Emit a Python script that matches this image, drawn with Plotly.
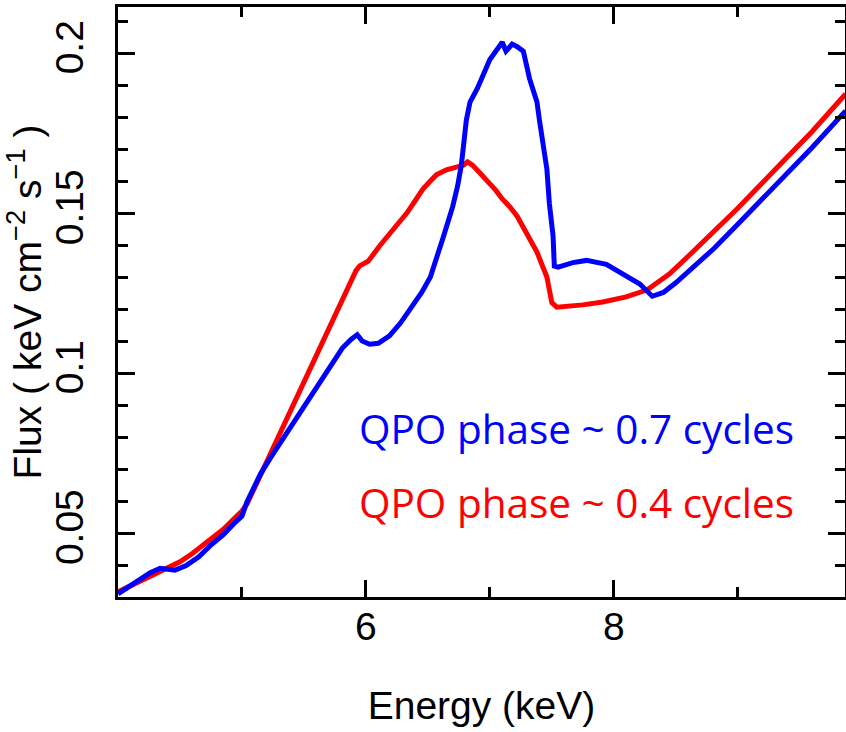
import plotly.graph_objects as go

# Energy (keV) / Flux for QPO phase ~0.4 cycles (red)
red_E = [4.00, 4.10, 4.20, 4.30, 4.40, 4.50, 4.60, 4.74, 4.85, 4.95, 5.00, 5.04, 5.10, 5.23, 5.33,
         5.44, 5.49, 5.60, 5.69, 5.78, 5.85, 5.92, 5.95, 6.02, 6.11, 6.22, 6.33, 6.40, 6.46, 6.52,
         6.57, 6.65, 6.73, 6.79, 6.82, 6.86, 6.92, 6.98, 7.05, 7.10, 7.16, 7.22, 7.30, 7.38, 7.46,
         7.50, 7.54, 7.60, 7.75, 7.91, 8.10, 8.27, 8.45, 8.60, 8.80, 9.00, 9.30, 9.60, 9.87]
red_F = [0.0316, 0.0334, 0.0352, 0.0372, 0.0392, 0.0410, 0.0436, 0.0476, 0.0512, 0.0550, 0.0569,
         0.0590, 0.0640, 0.0740, 0.0825, 0.0919, 0.0956, 0.1050, 0.1130, 0.1205, 0.1260, 0.1320,
         0.1335, 0.1350, 0.1397, 0.1450, 0.1500, 0.1540, 0.1575, 0.1600, 0.1620, 0.1635, 0.1644,
         0.1650, 0.1660, 0.1650, 0.1625, 0.1600, 0.1570, 0.1544, 0.1520, 0.1490, 0.1434, 0.1378,
         0.1300, 0.1220, 0.1206, 0.1207, 0.1213, 0.1222, 0.1238, 0.1260, 0.1310, 0.1365, 0.1440,
         0.1515, 0.1635, 0.1755, 0.1872]

# QPO phase ~0.7 cycles (blue)
blue_E = [4.00, 4.10, 4.18, 4.26, 4.34, 4.40, 4.46, 4.55, 4.65, 4.74, 4.85, 4.95, 5.00, 5.04,
          5.10, 5.15, 5.23, 5.33, 5.45, 5.55, 5.65, 5.73, 5.81, 5.88, 5.93, 5.97, 6.03, 6.10, 6.19,
          6.28, 6.38, 6.45, 6.52, 6.57, 6.62, 6.66, 6.70, 6.74, 6.77, 6.79, 6.81, 6.84, 6.90, 7.00,
          7.05, 7.10, 7.13, 7.18, 7.22, 7.27, 7.32, 7.38, 7.40, 7.43, 7.46, 7.48, 7.51, 7.52, 7.55,
          7.67, 7.78, 7.94, 8.05, 8.21, 8.31, 8.40, 8.50, 8.65, 8.81, 9.00, 9.30, 9.60, 9.87]
blue_F = [0.0310, 0.0335, 0.0356, 0.0376, 0.0390, 0.0388, 0.0384, 0.0398, 0.0425, 0.0459, 0.0495,
          0.0535, 0.0553, 0.0597, 0.0648, 0.0685, 0.0735, 0.0794, 0.0860, 0.0919, 0.0980, 0.1030,
          0.1078, 0.1105, 0.1120, 0.1100, 0.1090, 0.1093, 0.1116, 0.1157, 0.1210, 0.1252, 0.1300,
          0.1355, 0.1420, 0.1470, 0.1520, 0.1585, 0.1650, 0.1720, 0.1790, 0.1847, 0.1890, 0.1980,
          0.2010, 0.2034, 0.2006, 0.2028, 0.2020, 0.2006, 0.1920, 0.1847, 0.1790, 0.1710, 0.1637,
          0.1530, 0.1428, 0.1334, 0.1331, 0.1345, 0.1352, 0.1340, 0.1316, 0.1278, 0.1240, 0.1252,
          0.1282, 0.1333, 0.1390, 0.1465, 0.1585, 0.1705, 0.1819]

labels = ["QPO phase ~ 0.7 cycles", "QPO phase ~ 0.4 cycles"]
label_colors = ["#0000ff", "#ff0000"]

x_tickvals = [4, 6, 8]
x_ticktext = ["", "6", "8"]

FONT = "Liberation Sans, Arial, sans-serif"

fig = go.Figure()
fig.add_trace(go.Scatter(x=red_E, y=red_F, mode="lines",
                         line=dict(color="#ff0000", width=5), showlegend=False))
fig.add_trace(go.Scatter(x=blue_E, y=blue_F, mode="lines",
                         line=dict(color="#0000ff", width=5), showlegend=False))

fig.add_annotation(x=5.925, y=0.0828, xref="x", yref="y", text=labels[0], showarrow=False,
                   xanchor="left", yanchor="middle",
                   font=dict(family="Open Sans", size=40.5, color=label_colors[0]))
fig.add_annotation(x=5.925, y=0.0594, xref="x", yref="y", text=labels[1], showarrow=False,
                   xanchor="left", yanchor="middle",
                   font=dict(family="Open Sans", size=40.5, color=label_colors[1]))

axis_common = dict(showgrid=False, zeroline=False, showline=True, linecolor="black",
                   linewidth=2.5, mirror="ticks", ticks="inside", tickcolor="black",
                   tickwidth=2.5, ticklen=17, automargin=False,
                   tickfont=dict(family=FONT, size=39, color="black"))

fig.update_xaxes(range=[4, 9.865], tickmode="array", tickvals=x_tickvals, ticktext=x_ticktext,
                 minor=dict(dtick=1, tick0=0, ticks="inside", ticklen=10, tickwidth=2.5,
                            tickcolor="black"),
                 title=dict(text="Energy (keV)", font=dict(family=FONT, size=39, color="black"),
                            standoff=46),
                 ticklabelstandoff=-7, **axis_common)
fig.update_yaxes(range=[0.03, 0.2144], tick0=0, dtick=0.05, tickangle=-90,
                 minor=dict(dtick=0.01, ticks="inside", ticklen=10, tickwidth=2.5, tickcolor="black"),
                 title=dict(text="Flux ( keV cm<sup>−2</sup> s<sup>−1</sup> )",
                            font=dict(family=FONT, size=39, color="black"), standoff=20),
                 ticklabelstandoff=17, **axis_common)

fig.update_layout(width=846, height=732, margin=dict(l=118, r=1, t=7, b=135),
                  plot_bgcolor="white", paper_bgcolor="white")

fig.write_html("out.html")
